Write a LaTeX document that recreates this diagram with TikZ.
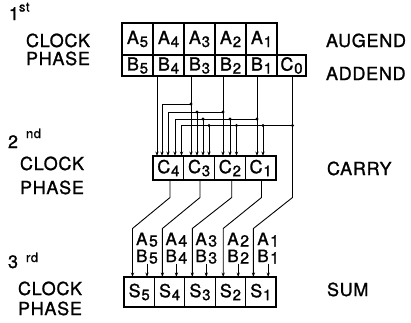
\documentclass[tikz,border=0pt]{standalone}
\usepackage{fontspec}
\setmainfont{TeX Gyre Heros}[LetterSpace=4,FakeBold=1.2]
\usetikzlibrary{arrows.meta,calc}
\newcommand{\bx}[2]{#1\hspace{0.8pt}\raisebox{-3pt}{\fontsize{15}{15}\selectfont #2}}
\newcommand{\lbl}[2]{#1\hspace{1.5pt}\raisebox{-1.5pt}{\fontsize{16}{16}\selectfont #2}}
\newcommand{\sups}[1]{{\fontsize{13}{13}\selectfont #1}}
\begin{document}
\begin{tikzpicture}[x=1pt,y=-1pt,
  every node/.style={font=\fontsize{18}{20}\selectfont, inner sep=0pt, outer sep=0pt},
  cell/.style={draw, line width=1.1pt, anchor=north west},
  abox/.style={cell, minimum width=31pt, minimum height=32pt},
  bbox/.style={cell, minimum width=31pt, minimum height=21pt},
  cbox/.style={cell, minimum width=30.75pt, minimum height=24pt},
  sbox/.style={cell, minimum width=30.4pt, minimum height=30pt},
  txt/.style={anchor=base west},
  lbtxt/.style={anchor=base, font=\fontsize{17}{20}\selectfont},
  ln/.style={line width=0.9pt, -{Stealth[length=4.5pt,width=3.2pt]}},
  pl/.style={line width=0.9pt}]
\useasboundingbox (0,0) rectangle (411,322);

% ---------- left texts ----------
\node[txt] (o1) at (9,20) {1};
\node[txt] (o1s) at (19,11.5) {\sups{st}};
\node[txt] (k1) at (26,47) {CLOCK};
\node[txt] (p1) at (26,65) {PHASE};
\node[txt] (o2) at (8,148) {2};
\node[txt] (o2s) at (26,138) {\sups{nd}};
\node[txt] (k2) at (20,170) {CLOCK};
\node[txt] (p2) at (20,194) {PHASE};
\node[txt] (o3) at (8,268) {3};
\node[txt] (o3s) at (26,262) {\sups{rd}};
\node[txt] (k3) at (18,295) {CLOCK};
\node[txt] (p3) at (18,315) {PHASE};

% ---------- right texts ----------
\node[txt] (aug) at (326,47) {AUGEND};
\node[txt] (add) at (326,80) {ADDEND};
\node[txt] (car) at (327,175) {CARRY};
\node[txt] (sum) at (327,296) {SUM};

% ---------- registers ----------
\node[abox] (A5) at (122,23) {\bx{A}{5}};
\node[abox] (A4) at (153,23) {\bx{A}{4}};
\node[abox] (A3) at (184,23) {\bx{A}{3}};
\node[abox] (A2) at (215,23) {\bx{A}{2}};
\node[abox] (A1) at (246,23) {\bx{A}{1}};
\node[bbox] (B5) at (122,55) {\bx{B}{5}};
\node[bbox] (B4) at (153,55) {\bx{B}{4}};
\node[bbox] (B3) at (184,55) {\bx{B}{3}};
\node[bbox] (B2) at (215,55) {\bx{B}{2}};
\node[bbox] (B1) at (246,55) {\bx{B}{1}};
\node[bbox, minimum width=29pt] (C0) at (277,55) {\bx{C}{0}};

\node[cbox] (C4) at (153,156) {\bx{C}{4}};
\node[cbox] (C3) at (183.75,156) {\bx{C}{3}};
\node[cbox] (C2) at (214.5,156) {\bx{C}{2}};
\node[cbox] (C1) at (245.25,156) {\bx{C}{1}};

\node[sbox] (S5) at (124,277) {\bx{S}{5}};
\node[sbox] (S4) at (154.4,277) {\bx{S}{4}};
\node[sbox] (S3) at (184.8,277) {\bx{S}{3}};
\node[sbox] (S2) at (215.2,277) {\bx{S}{2}};
\node[sbox] (S1) at (245.6,277) {\bx{S}{1}};

% ---------- helper levels ----------
\coordinate (h3) at (0,104);
\coordinate (h2) at (0,112);
\coordinate (h1) at (0,119);
\coordinate (h0) at (0,125.5);
\coordinate (yt) at (0,197.5);
\coordinate (yb) at (0,228.5);
\coordinate (ya) at (0,245);
\coordinate (yB) at (0,262);

% column taps
\coordinate (v4) at ([xshift=4pt]B4.south west);
\coordinate (v3) at ([xshift=7pt]B3.south west);
\coordinate (v2) at ([xshift=8pt]B2.south west);
\coordinate (v1) at ([xshift=11pt]B1.south west);
\coordinate (v0) at ([xshift=1pt]C0.south);

% carry inputs
\coordinate (i4b) at ([xshift=9pt]C4.north west);
\coordinate (i4c) at ([xshift=15pt]C4.north west);
\coordinate (i4d) at ([xshift=22pt]C4.north west);
\coordinate (i4e) at ([xshift=28.5pt]C4.north west);
\coordinate (i3b) at ([xshift=13.25pt]C3.north west);
\coordinate (i3c) at ([xshift=19.25pt]C3.north west);
\coordinate (i3d) at ([xshift=25.25pt]C3.north west);
\coordinate (i2b) at ([xshift=15.5pt]C2.north west);
\coordinate (i2c) at ([xshift=22pt]C2.north west);
\coordinate (i1b) at ([xshift=17.75pt]C1.north west);

% carry outputs
\coordinate (o4) at ([xshift=17pt]C4.south west);
\coordinate (o3) at ([xshift=16.25pt]C3.south west);
\coordinate (o2) at ([xshift=17.2pt]C2.south west);
\coordinate (o1) at ([xshift=16.25pt]C1.south west);

% sum inputs
\coordinate (s5c) at ([xshift=8.5pt]S5.north west);
\coordinate (s4c) at ([xshift=8pt]S4.north west);
\coordinate (s3c) at ([xshift=7.5pt]S3.north west);
\coordinate (s2c) at ([xshift=8pt]S2.north west);
\coordinate (s1c) at ([xshift=7.8pt]S1.north west);
\coordinate (s5d) at ([xshift=23pt]S5.north west);
\coordinate (s4d) at ([xshift=22pt]S4.north west);
\coordinate (s3d) at ([xshift=21.5pt]S3.north west);
\coordinate (s2d) at ([xshift=23pt]S2.north west);
\coordinate (s1d) at ([xshift=22.6pt]S1.north west);

% ---------- carry network ----------
\draw[ln] (v4) -- (v4 |- C4.north);
\draw[ln] (v3) -- (v3 |- C3.north);
\draw[ln] (v2) -- (v2 |- C2.north);
\draw[ln] (v1) -- (v1 |- C1.north);
\draw[ln] (v0) -- (v0 |- yt) -- (s1c |- yb) -- (s1c);

\draw[ln] (v3 |- h3) -| (i4b);
\draw[ln] (v2 |- h2) -| (i4c);
\draw[ln] (i3b |- h2) -- (i3b);
\draw[ln] (v1 |- h1) -| (i4d);
\draw[ln] (i3c |- h1) -- (i3c);
\draw[ln] (i2b |- h1) -- (i2b);
\draw[ln] (v0 |- h0) -| (i4e);
\draw[ln] (i3d |- h0) -- (i3d);
\draw[ln] (i2c |- h0) -- (i2c);
\draw[ln] (i1b |- h0) -- (i1b);

\foreach \p in {v3 |- h3, v2 |- h2, i3b |- h2, v1 |- h1, i3c |- h1, i2b |- h1,
                v0 |- h0, i3d |- h0, i2c |- h0, i1b |- h0}
  \fill (\p) circle (1.6);

% ---------- carries to sum ----------
\draw[ln] (o4) -- (o4 |- yt) -- (s5c |- yb) -- (s5c);
\draw[ln] (o3) -- (o3 |- yt) -- (s4c |- yb) -- (s4c);
\draw[ln] (o2) -- (o2 |- yt) -- (s3c |- yb) -- (s3c);
\draw[ln] (o1) -- (o1 |- yt) -- (s2c |- yb) -- (s2c);

% ---------- operand labels ----------
\node[lbtxt] (la5) at (s5d |- ya) {\lbl{A}{5}};
\node[lbtxt] (lb5) at (s5d |- yB) {\lbl{B}{5}};
\node[lbtxt] (la4) at (s4d |- ya) {\lbl{A}{4}};
\node[lbtxt] (lb4) at (s4d |- yB) {\lbl{B}{4}};
\node[lbtxt] (la3) at (s3d |- ya) {\lbl{A}{3}};
\node[lbtxt] (lb3) at (s3d |- yB) {\lbl{B}{3}};
\node[lbtxt] (la2) at (s2d |- ya) {\lbl{A}{2}};
\node[lbtxt] (lb2) at (s2d |- yB) {\lbl{B}{2}};
\node[lbtxt] (la1) at (s1d |- ya) {\lbl{A}{1}};
\node[lbtxt] (lb1) at (s1d |- yB) {\lbl{B}{1}};

\draw[ln] (lb5.south -| s5d) -- (s5d);
\draw[ln] (lb4.south -| s4d) -- (s4d);
\draw[ln] (lb3.south -| s3d) -- (s3d);
\draw[ln] (lb2.south -| s2d) -- (s2d);
\draw[ln] (lb1.south -| s1d) -- (s1d);
\end{tikzpicture}
\end{document}
